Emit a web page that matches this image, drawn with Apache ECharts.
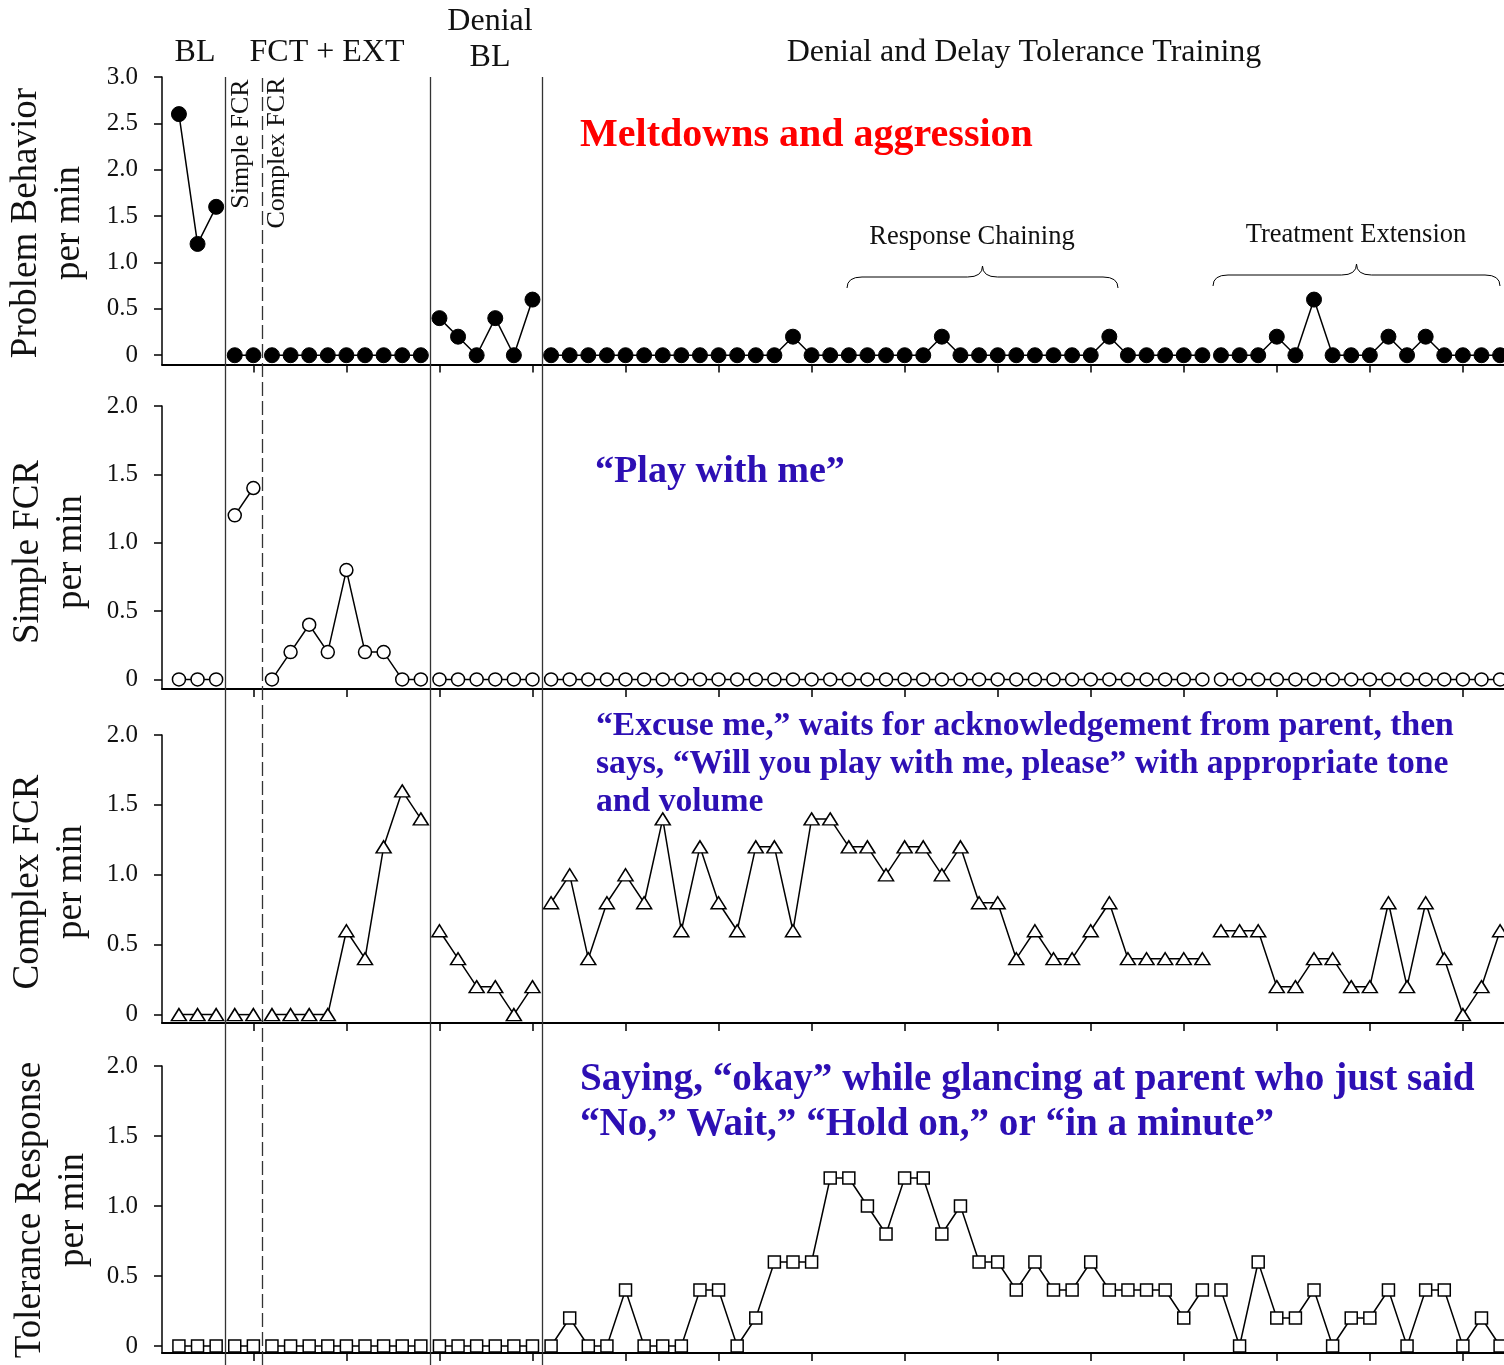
<!DOCTYPE html>
<html><head><meta charset="utf-8">
<script src="https://cdn.jsdelivr.net/npm/echarts@6/dist/echarts.min.js"></script>
<style>html,body{margin:0;padding:0;background:#fff}#c{width:1504px;height:1365px}</style>
</head><body><div id="c"></div>
<script>
// ---------------- data ----------------
const sessions = Array.from({length: 72}, (_, i) => i + 1);
const phaseLines = [3.5, 5.5, 14.5, 20.5];          // 5.5 is the dashed Simple/Complex FCR line
const segments = [[1,3],[4,5],[6,14],[15,20],[21,56],[57,72]];

const problemBehavior = [
  2.6,1.2,1.6,
  0,0,0,0,0,0,0,0,0,0,0,
  0.4,0.2,0,0.4,0,0.6,
  0,0,0,0,0,0,0,0,0,0,0,0,0,0.2,0,0,0,0,0,0,0,0.2,0,0,0,0,0,0,0,0,0.2,0,0,0,0,0,
  0,0,0,0.2,0,0.6,0,0,0,0.2,0,0.2,0,0,0,0
];
const simpleFCR = [
  0,0,0,
  1.2,1.4,
  0,0.2,0.4,0.2,0.8,0.2,0.2,0,0,
  0,0,0,0,0,0,
  0,0,0,0,0,0,0,0,0,0,0,0,0,0,0,0,0,0,0,0,0,0,0,0,0,0,0,0,0,0,0,0,0,0,0,0,
  0,0,0,0,0,0,0,0,0,0,0,0,0,0,0,0
];
const complexFCR = [
  0,0,0,
  0,0,
  0,0,0,0,0.6,0.4,1.2,1.6,1.4,
  0.6,0.4,0.2,0.2,0,0.2,
  0.8,1.0,0.4,0.8,1.0,0.8,1.4,0.6,1.2,0.8,0.6,1.2,1.2,0.6,1.4,1.4,1.2,1.2,1.0,1.2,1.2,1.0,1.2,0.8,0.8,0.4,0.6,0.4,0.4,0.6,0.8,0.4,0.4,0.4,0.4,0.4,
  0.6,0.6,0.6,0.2,0.2,0.4,0.4,0.2,0.2,0.8,0.2,0.8,0.4,0,0.2,0.6
];
const tolerance = [
  0,0,0,
  0,0,
  0,0,0,0,0,0,0,0,0,
  0,0,0,0,0,0,
  0,0.2,0,0,0.4,0,0,0,0.4,0.4,0,0.2,0.6,0.6,0.6,1.2,1.2,1.0,0.8,1.2,1.2,0.8,1.0,0.6,0.6,0.4,0.6,0.4,0.4,0.6,0.4,0.4,0.4,0.4,0.2,0.4,
  0.4,0,0.6,0.2,0.2,0.4,0,0.2,0.2,0.4,0,0.4,0.4,0,0.2,0
];
const yTicksTop = [0,0.5,1,1.5,2,2.5,3];
const yTicks = [0,0.5,1,1.5,2];
const xTicks = [5,10,15,20,25,30,35,40,45,50,55,60,65,70];

const phaseLabels = ['BL', 'FCT + EXT', 'Denial\nBL', 'Denial and Delay Tolerance Training'];
const yTitles = ['Problem Behavior\nper min', 'Simple FCR\nper min', 'Complex FCR\nper min', 'Tolerance Response\nper min'];
const responseLabels = [
  'Meltdowns and aggression',
  '\u201CPlay with me\u201D',
  '\u201CExcuse me,\u201D waits for acknowledgement from parent, then\nsays, \u201CWill you play with me, please\u201D with appropriate tone\nand volume',
  'Saying, \u201Cokay\u201D while glancing at parent who just said\n\u201CNo,\u201D Wait,\u201D \u201CHold on,\u201D or \u201Cin a minute\u201D'
];

// ---------------- layout ----------------
const SERIF = '"Liberation Serif", "Times New Roman", serif';
const X_MIN = 0.09, X_MAX = 72.21;
const panels = [
  {top: 77,   height: 287.5, min: -0.1,  max: 3, ticks: yTicksTop, values: problemBehavior, symbol: 'circle',   size: 15,      filled: true},
  {top: 406,  height: 283,   min: -0.07, max: 2, ticks: yTicks,    values: simpleFCR,       symbol: 'circle',   size: 13,      filled: false},
  {top: 735,  height: 288,   min: -0.06, max: 2, ticks: yTicks,    values: complexFCR,      symbol: 'triangle', size: [15,12], filled: false},
  {top: 1066, height: 287,   min: -0.05, max: 2, ticks: yTicks,    values: tolerance,       symbol: 'rect',     size: 12,      filled: false}
];

const grid = panels.map(p => ({left: 162, width: 1342, top: p.top, height: p.height}));
grid.push({left: 162, width: 1342, top: 77, height: 1288});

const xAxis = panels.map((p, i) => ({
  type: 'value', gridIndex: i, min: X_MIN, max: X_MAX,
  axisLine: {show: true, onZero: false, lineStyle: {color: '#000', width: 2}},
  axisTick: {show: true, customValues: xTicks, length: 8, inside: false, lineStyle: {color: '#000', width: 1.5}},
  axisLabel: {show: false}, splitLine: {show: false}
}));
xAxis.push({type: 'value', gridIndex: 4, min: X_MIN, max: X_MAX, show: false});

const yAxis = panels.map((p, i) => ({
  type: 'value', gridIndex: i, min: p.min, max: p.max,
  axisLine: {show: true, onZero: false, lineStyle: {color: '#000', width: 1.5}},
  axisTick: {show: true, customValues: p.ticks, length: 8, inside: false, lineStyle: {color: '#000', width: 1.5}},
  axisLabel: {show: true, customValues: p.ticks, margin: 24, color: '#111',
    fontFamily: SERIF, fontSize: 25, formatter: v => v === 0 ? '0' : v.toFixed(1)},
  splitLine: {show: false}
}));
yAxis.push({type: 'value', gridIndex: 4, min: 0, max: 1, show: false});

const series = [];
panels.forEach((p, i) => {
  segments.forEach(([a, b]) => {
    series.push({
      type: 'line', xAxisIndex: i, yAxisIndex: i, animation: false, silent: true,
      symbol: p.symbol, symbolSize: p.size, showSymbol: true, clip: false,
      lineStyle: {color: '#000', width: 1.5},
      itemStyle: p.filled ? {color: '#000', borderColor: '#000'} : {color: '#fff', borderColor: '#000', borderWidth: 1.5},
      data: sessions.slice(a - 1, b).map(s => [s, p.values[s - 1]])
    });
  });
});
series.push({
  type: 'line', xAxisIndex: 4, yAxisIndex: 4, data: [], animation: false, silent: true,
  markLine: {
    silent: true, symbol: ['none', 'none'], label: {show: false}, animation: false,
    lineStyle: {color: '#333', width: 1.3, type: 'solid'},
    data: phaseLines.map(v => v === 5.5
      ? {xAxis: v, lineStyle: {type: [14, 5], color: '#333', width: 1.3}}
      : {xAxis: v})
  }
});

// fit bold text width to a target width
const mctx = document.createElement('canvas').getContext('2d');
function fitSize(text, weight, family, width) {
  mctx.font = weight + ' 100px ' + family;
  const w = Math.max(...text.split('\n').map(t => mctx.measureText(t).width));
  return 100 * width / w;
}

function txt(text, x, y, size, opts = {}) {
  return {
    type: 'text', x, y, rotation: opts.rotation || 0, silent: true,
    style: {
      text, fill: opts.color || '#111',
      font: (opts.weight || 'normal') + ' ' + size + 'px ' + SERIF,
      align: opts.align || 'center', verticalAlign: 'middle',
      lineHeight: opts.lineHeight || size * 1.2
    }
  };
}

// curly brace (annotation) built from curves and lines
function brace(x0, x1, yTip, yMid, yEnd) {
  const xm = (x0 + x1) / 2, r = 15;
  const st = {stroke: '#000', lineWidth: 1, fill: null};
  return [
    {type: 'bezierCurve', silent: true, shape: {x1: x0, y1: yEnd, cpx1: x0, cpy1: yMid, x2: x0 + r, y2: yMid}, style: st},
    {type: 'line', silent: true, shape: {x1: x0 + r, y1: yMid, x2: xm - r, y2: yMid}, style: st},
    {type: 'bezierCurve', silent: true, shape: {x1: xm - r, y1: yMid, cpx1: xm, cpy1: yMid, x2: xm, y2: yTip}, style: st},
    {type: 'bezierCurve', silent: true, shape: {x1: xm, y1: yTip, cpx1: xm, cpy1: yMid, x2: xm + r, y2: yMid}, style: st},
    {type: 'line', silent: true, shape: {x1: xm + r, y1: yMid, x2: x1 - r, y2: yMid}, style: st},
    {type: 'bezierCurve', silent: true, shape: {x1: x1 - r, y1: yMid, cpx1: x1, cpy1: yMid, x2: x1, y2: yEnd}, style: st}
  ];
}

const RED = '#FF0000', BLUE = '#2D0FB4';
const meltSize = fitSize(responseLabels[0], 'bold', SERIF, 453);
const playSize = fitSize(responseLabels[1], 'bold', SERIF, 250);
const excuseSize = fitSize(responseLabels[2], 'bold', SERIF, 858);
const sayingSize = fitSize(responseLabels[3], 'bold', SERIF, 895);

const graphic = [
  txt(phaseLabels[0], 195, 53, 32),
  txt(phaseLabels[1], 327, 53, 32),
  txt(phaseLabels[2], 490, 40, 32, {lineHeight: 36}),
  txt(phaseLabels[3], 1024, 53, 32),
  txt('Simple FCR', 241, 144, 26, {rotation: Math.PI / 2}),
  txt('Complex FCR', 277, 153, 26, {rotation: Math.PI / 2}),
  txt(yTitles[0], 48, 223, 37, {rotation: Math.PI / 2, lineHeight: 43}),
  txt(yTitles[1], 50, 552, 37, {rotation: Math.PI / 2, lineHeight: 43}),
  txt(yTitles[2], 50, 882, 37, {rotation: Math.PI / 2, lineHeight: 43}),
  txt(yTitles[3], 52, 1210, 37, {rotation: Math.PI / 2, lineHeight: 43}),
  txt(responseLabels[0], 580, 136, meltSize, {weight: 'bold', color: RED, align: 'left'}),
  txt(responseLabels[1], 595, 472, playSize, {weight: 'bold', color: BLUE, align: 'left'}),
  txt(responseLabels[2], 596, 764, excuseSize, {weight: 'bold', color: BLUE, align: 'left', lineHeight: 38}),
  txt(responseLabels[3], 580, 1102, sayingSize, {weight: 'bold', color: BLUE, align: 'left', lineHeight: 45}),
  txt('Response Chaining', 972, 237, 26.5),
  txt('Treatment Extension', 1356, 235, 26.5),
  ...brace(847, 1118, 266, 277, 288),
  ...brace(1213, 1500, 264, 275, 286)
];

const chart = echarts.init(document.getElementById('c'), null, {renderer: 'canvas'});
chart.setOption({animation: false, backgroundColor: '#fff', grid, xAxis, yAxis, series, graphic});
</script>
</body></html>
